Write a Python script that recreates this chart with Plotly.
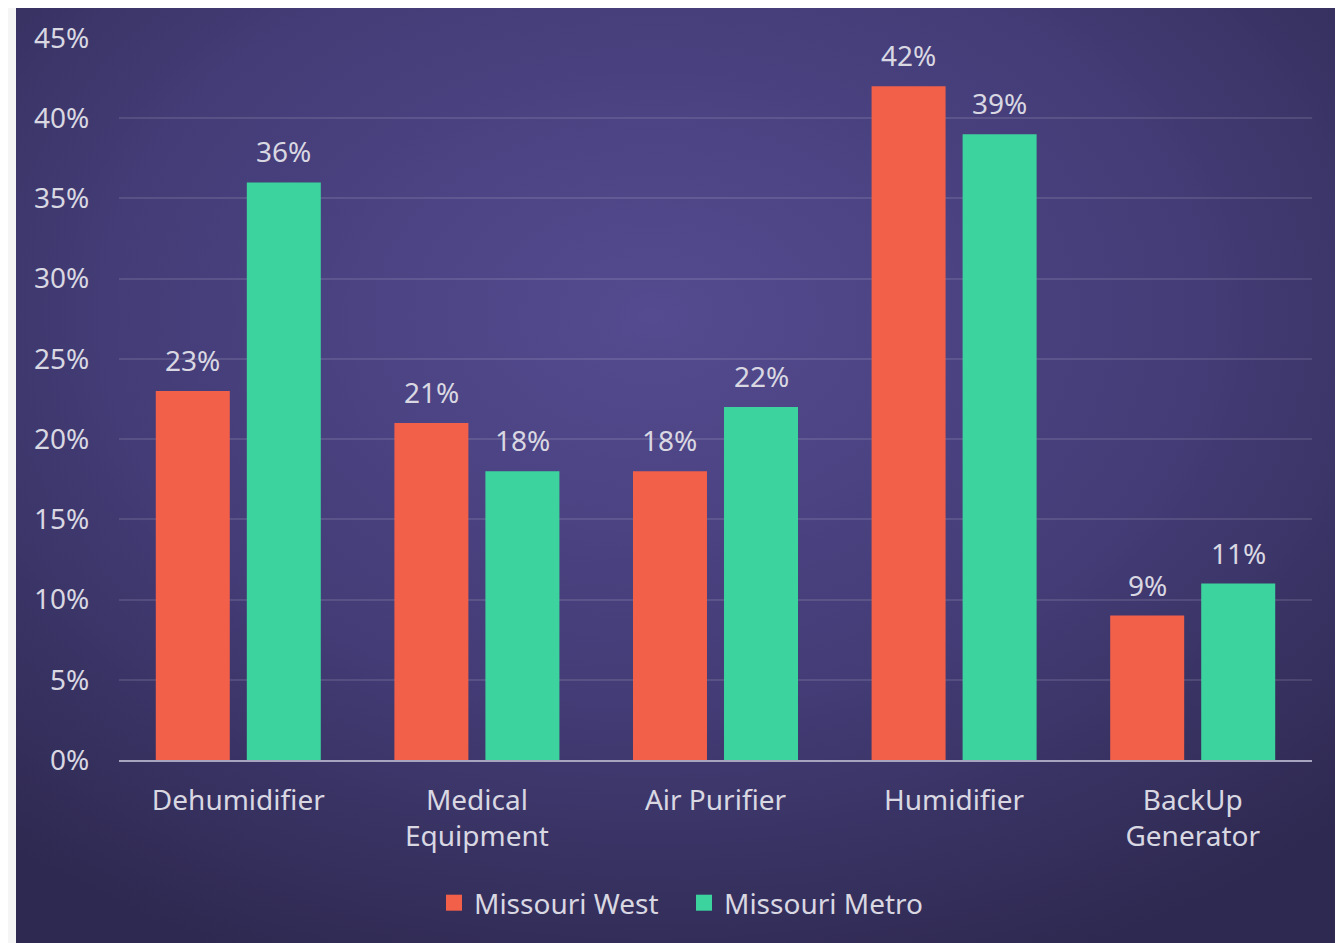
import base64
import plotly.graph_objects as go

categories = ["Dehumidifier", "Medical<br>Equipment", "Air Purifier", "Humidifier", "BackUp<br>Generator"]
missouri_west = [23, 21, 18, 42, 9]
missouri_metro = [36, 18, 22, 39, 11]
y_ticks = [0, 5, 10, 15, 20, 25, 30, 35, 40, 45]

FONT = "Noto Sans"
TXT = "#D9D8E2"
WEST = "#F3604A"
METRO = "#3DD39E"
BARGAP = 0.237
GROUPGAP = 0.187

svg = """<svg xmlns='http://www.w3.org/2000/svg' width='1327' height='938' viewBox='0 0 1327 938' preserveAspectRatio='none'>
<defs><radialGradient id='g' cx='0.48' cy='0.33' r='0.75' gradientUnits='objectBoundingBox'>
<stop offset='0' stop-color='#544B90'/>
<stop offset='0.55' stop-color='#433C76'/>
<stop offset='1' stop-color='#2E2950'/>
</radialGradient></defs>
<rect width='1327' height='938' fill='url(#g)'/></svg>"""
src = "data:image/svg+xml;base64," + base64.b64encode(svg.encode()).decode()

# page body has an 8px margin; figure coordinates = screen - 8
OFF = 8
W, H = 1343 - OFF, 943 - OFF
ml, mr, mt, mb = 119 - OFF, 31, 38 - OFF, 183
pw, ph = W - ml - mr, H - mt - mb

def px2x(px):
    return (px - OFF - ml) / pw

def py2y(py):
    return (H - mb - (py - OFF)) / ph

fig = go.Figure()
fig.add_trace(go.Bar(
    name="Missouri West", x=categories, y=missouri_west, showlegend=False,
    marker=dict(color=WEST, line=dict(width=0)),
))
fig.add_trace(go.Bar(
    name="Missouri Metro", x=categories, y=missouri_metro, showlegend=False,
    marker=dict(color=METRO, line=dict(width=0)),
))
for name, col in [("Missouri West", WEST), ("Missouri Metro", METRO)]:
    fig.add_trace(go.Scatter(
        x=[None], y=[None], mode="markers", name=name,
        marker=dict(symbol="square", size=16, color=col),
    ))

# value labels above each bar, placed at the grouped bar centres
slot = (1 - BARGAP) / 2
annotations = []
for series, sign in [(missouri_west, -1), (missouri_metro, 1)]:
    for i, v in enumerate(series):
        annotations.append(dict(
            x=i + sign * slot / 2, y=v, xref="x", yref="y",
            text=f"{v}%", showarrow=False, yanchor="bottom", yshift=10,
            font=dict(family=FONT, size=28, color=TXT),
        ))

fig.update_layout(
    width=W, height=H,
    margin=dict(l=ml, r=mr, t=mt, b=mb, autoexpand=False),
    paper_bgcolor="#F5F5F5",
    plot_bgcolor="rgba(0,0,0,0)",
    barmode="group", bargap=BARGAP, bargroupgap=GROUPGAP,
    font=dict(family=FONT, size=28, color=TXT),
    annotations=annotations,
    images=[dict(
        source=src, xref="paper", yref="paper",
        x=px2x(16), y=py2y(8), sizex=px2x(1343) - px2x(16), sizey=py2y(8) - py2y(943),
        xanchor="left", yanchor="top", sizing="stretch", layer="below",
    )],
    xaxis=dict(
        showgrid=False, showline=True, linecolor="#A7A4BF", linewidth=2,
        ticks="outside", ticklen=14, tickcolor="rgba(0,0,0,0)",
        tickfont=dict(family=FONT, size=28, color=TXT),
    ),
    yaxis=dict(
        range=[0, 45], tickvals=y_ticks, ticktext=[f"{v}%" for v in y_ticks],
        showgrid=True, gridcolor="rgba(255,255,255,0.11)", gridwidth=2,
        zeroline=False, showline=False,
        ticks="outside", ticklen=23, tickcolor="rgba(0,0,0,0)",
        tickfont=dict(family=FONT, size=28, color=TXT),
    ),
    legend=dict(
        orientation="h", x=px2x(684), xanchor="center", y=py2y(903), yanchor="middle",
        font=dict(family=FONT, size=28, color=TXT), bgcolor="rgba(0,0,0,0)",
        itemwidth=30, entrywidth=205,
    ),
    showlegend=True,
)

fig.write_html("out.html")
